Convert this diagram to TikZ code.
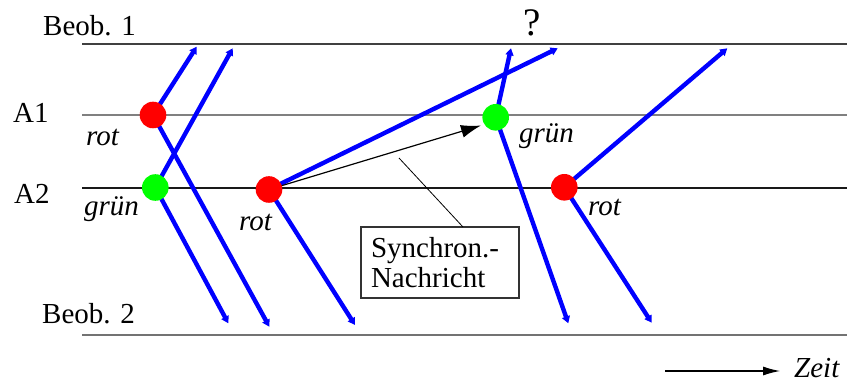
\documentclass[tikz,border=0pt]{standalone}
\usepackage{fontspec}
\setmainfont{Liberation Serif}
\usetikzlibrary{arrows.meta}
\begin{document}
\begin{tikzpicture}[x=1pt,y=-1pt,
  every node/.style={font=\fontsize{29}{30}\selectfont},
  lbl/.style={anchor=base west,inner sep=0pt},
  ilbl/.style={anchor=base west,inner sep=0pt,font=\fontsize{29}{30}\selectfont\itshape},
  hline/.style={line width=1.3pt},
  dot/.style={circle,inner sep=0pt,minimum size=26.6pt},
  sig/.style={draw=blue,line width=4.4pt,-{Stealth[length=7pt,width=8pt,inset=0pt]}},
  msg/.style={draw=black,line width=1.2pt,-{Latex[length=20pt,width=13pt]}},
  thin/.style={draw=black,line width=0.8pt}]
\useasboundingbox (0,0) rectangle (847,385);
% horizontal lines
\coordinate (b1l) at (82,44);  \coordinate (b1r) at (847,44);
\coordinate (a1l) at (82,115); \coordinate (a1r) at (847,115);
\coordinate (a2l) at (82,188); \coordinate (a2r) at (847,188);
\coordinate (b2l) at (82,335); \coordinate (b2r) at (847,335);
\draw[hline,draw=black!75] (b1l) -- (b1r);
\draw[hline,draw=black!50] (a1l) -- (a1r);
\draw[hline,draw=black!90] (a2l) -- (a2r);
\draw[hline,draw=black!55] (b2l) -- (b2r);
% labels
\node[lbl] (tb1) at (43,36) {Beob. 1};
\node[lbl] (ta1) at (13,122.5) {A1};
\node[lbl] (ta2) at (14,204) {A2};
\node[lbl] (tb2) at (42,323) {Beob. 2};
\node[lbl,font=\fontsize{39}{40}\selectfont] (tq) at (523,35.5) {?};
\node[ilbl] (l1) at (86,146) {rot};
\node[ilbl] (l2) at (84,215) {grün};
\node[ilbl] (l3) at (239,231) {rot};
\node[ilbl] (l4) at (519,143) {grün};
\node[ilbl] (l5) at (588,215) {rot};
% dot positions
\coordinate (pr1) at (153,115);
\coordinate (pg1) at (155.3,187.5);
\coordinate (pr2) at (269,189.5);
\coordinate (pg2) at (495.7,117.3);
\coordinate (pr3) at (564.3,187.3);
% arrow ends
\coordinate (e1) at (196.7,46.7);
\coordinate (e2) at (269.3,326.7);
\coordinate (e3) at (232.7,48.3);
\coordinate (e4) at (228.3,323.3);
\coordinate (e5) at (557.7,48.3);
\coordinate (e6) at (355,325);
\coordinate (e7) at (511,48.3);
\coordinate (e8) at (568.3,323.3);
\coordinate (e9) at (727.3,48.3);
\coordinate (e10) at (651.7,322.7);
\draw[sig] (pr1) -- (e1);
\draw[sig] (pr1) -- (e2);
\draw[sig] (pg1) -- (e3);
\draw[sig] (pg1) -- (e4);
\draw[sig] (pr2) -- (e5);
\draw[sig] (pr2) -- (e6);
\draw[sig] (pg2) -- (e7);
\draw[sig] (pg2) -- (e8);
\draw[sig] (pr3) -- (e9);
\draw[sig] (pr3) -- (e10);
% sync message
\coordinate (mtip) at (481,125.5);
\draw[msg] (pr2) -- (mtip);
% dots
\node[dot,fill=red] (r1) at (pr1) {};
\node[dot,fill=green] (g1) at (pg1) {};
\node[dot,fill=red] (r2) at (pr2) {};
\node[dot,fill=green] (g2) at (pg2) {};
\node[dot,fill=red] (r3) at (pr3) {};
% box
\node[draw=black!80,line width=1.1pt,minimum width=158pt,minimum height=71pt,
  text width=138pt,align=left,inner sep=0pt] (box) at (440,262.5)
  {Synchron.-\\Nachricht};
\coordinate (ps) at (399,158);
\coordinate (pe) at (463,227);
\draw[thin] (ps) -- (pe);
% time arrow
\coordinate (z1) at (665,371);
\coordinate (z2) at (780,371);
\draw[draw=black,line width=1.1pt,-{Latex[length=17pt,width=9pt]}] (z1) -- (z2);
\node[ilbl] (zeit) at (794,377) {Zeit};
\end{tikzpicture}
\end{document}
